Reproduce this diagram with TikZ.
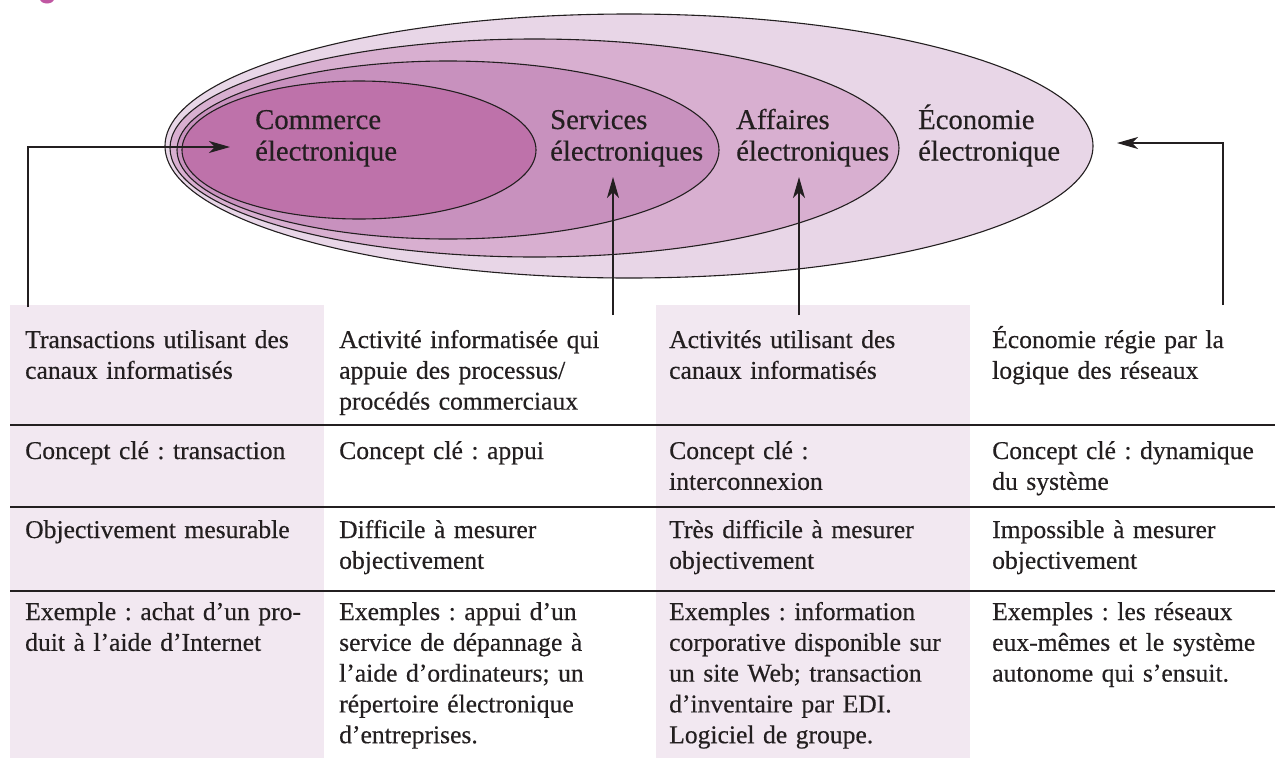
\documentclass[tikz,border=0pt]{standalone}
\usepackage{fontspec}
\setmainfont[FakeBold=0.4]{Liberation Serif}
\usetikzlibrary{arrows.meta,shapes.geometric}
\definecolor{ink}{HTML}{231F20}
\definecolor{ecoC}{HTML}{E8D6E7}
\definecolor{affC}{HTML}{D8AFD0}
\definecolor{serC}{HTML}{C891BE}
\definecolor{comC}{HTML}{BE72AA}
\definecolor{shadeC}{HTML}{F2E8F1}
\definecolor{blobC}{HTML}{C057A2}
\frenchspacing
\begin{document}
\begin{tikzpicture}[x=1pt,y=-1pt,
  ell/.style={ellipse, draw=ink, line width=1.1pt, inner sep=0pt},
  elab/.style={anchor=base west, inner sep=0pt, align=left, text width=200pt,
    font=\fontsize{28.7}{31.5}\selectfont, text=ink},
  cell/.style={anchor=base west, inner sep=0pt, align=left, text width=310pt,
    font=\fontsize{25.6}{30.8}\selectfont, text=ink},
  rulel/.style={draw=ink, line width=2pt},
  conn/.style={draw=ink, line width=1.1pt, -{Stealth[length=21pt,width=12pt,inset=6pt]}}
]
\useasboundingbox (0,0) rectangle (1275,758);
% fragment of heading at the top edge
\fill[blobC] (47,-1) ellipse (7pt and 4.5pt);

% ellipses
\node[ell, fill=ecoC, minimum width=928pt, minimum height=264pt] (eco) at (629,146) {};
\node[ell, fill=affC, minimum width=729pt, minimum height=218pt] (aff) at (534.5,148) {};
\node[ell, fill=serC, minimum width=542pt, minimum height=178pt] (ser) at (448,150) {};
\node[ell, fill=comC, minimum width=354pt, minimum height=138pt] (com) at (359,150) {};

\node[elab] (tcom) at (255,129) {Commerce\\électronique};
\node[elab] (tser) at (550,129) {Services\\électroniques};
\node[elab] (taff) at (736,129) {Affaires\\électroniques};
\node[elab] (teco) at (918,129) {Économie\\électronique};

% table shading
\fill[shadeC] (10,305) rectangle (324,758);
\fill[shadeC] (656,305) rectangle (970,758);

% rules
\draw[rulel] (10,425) -- (1275,425);
\draw[rulel] (10,507) -- (1275,507);
\draw[rulel] (10,591) -- (1275,591);

% row 1
\node[cell] (c11) at (25,348) {Transactions utilisant des\\canaux informatisés};
\node[cell] (c12) at (339,348) {Activité informatisée qui\\appuie des processus/\\procédés commerciaux};
\node[cell] (c13) at (669,348) {Activités utilisant des\\canaux informatisés};
\node[cell] (c14) at (992,348) {Économie régie par la\\logique des réseaux};
% row 2
\node[cell] (c21) at (25,459) {Concept clé : transaction};
\node[cell] (c22) at (339,459) {Concept clé : appui};
\node[cell] (c23) at (669,459) {Concept clé :\\interconnexion};
\node[cell] (c24) at (992,459) {Concept clé : dynamique\\du système};
% row 3
\node[cell] (c31) at (25,538) {Objectivement mesurable};
\node[cell] (c32) at (339,538) {Difficile à mesurer\\objectivement};
\node[cell] (c33) at (669,538) {Très difficile à mesurer\\objectivement};
\node[cell] (c34) at (992,538) {Impossible à mesurer\\objectivement};
% row 4
\node[cell] (c41) at (25,620) {Exemple : achat d’un pro-\\duit à l’aide d’Internet};
\node[cell] (c42) at (339,620) {Exemples : appui d’un\\service de dépannage à\\l’aide d’ordinateurs; un\\répertoire électronique\\d’entreprises.};
\node[cell] (c43) at (669,620) {Exemples : information\\corporative disponible sur\\un site Web; transaction\\d’inventaire par EDI.\\Logiciel de groupe.};
\node[cell] (c44) at (992,620) {Exemples : les réseaux\\eux-mêmes et le système\\autonome qui s’ensuit.};

% connector ends
\coordinate (s1) at (28,307);
\coordinate (t1) at (230,147);
\coordinate (s2) at (613,315);
\coordinate (t2) at (613,177);
\coordinate (s3) at (799,315);
\coordinate (t3) at (799,177);
\coordinate (s4) at (1223,305);
\coordinate (t4) at (1117,143);

\draw[conn] (s1) |- (t1);
\draw[conn] (s2) -- (t2);
\draw[conn] (s3) -- (t3);
\draw[conn] (s4) |- (t4);
\end{tikzpicture}
\end{document}
